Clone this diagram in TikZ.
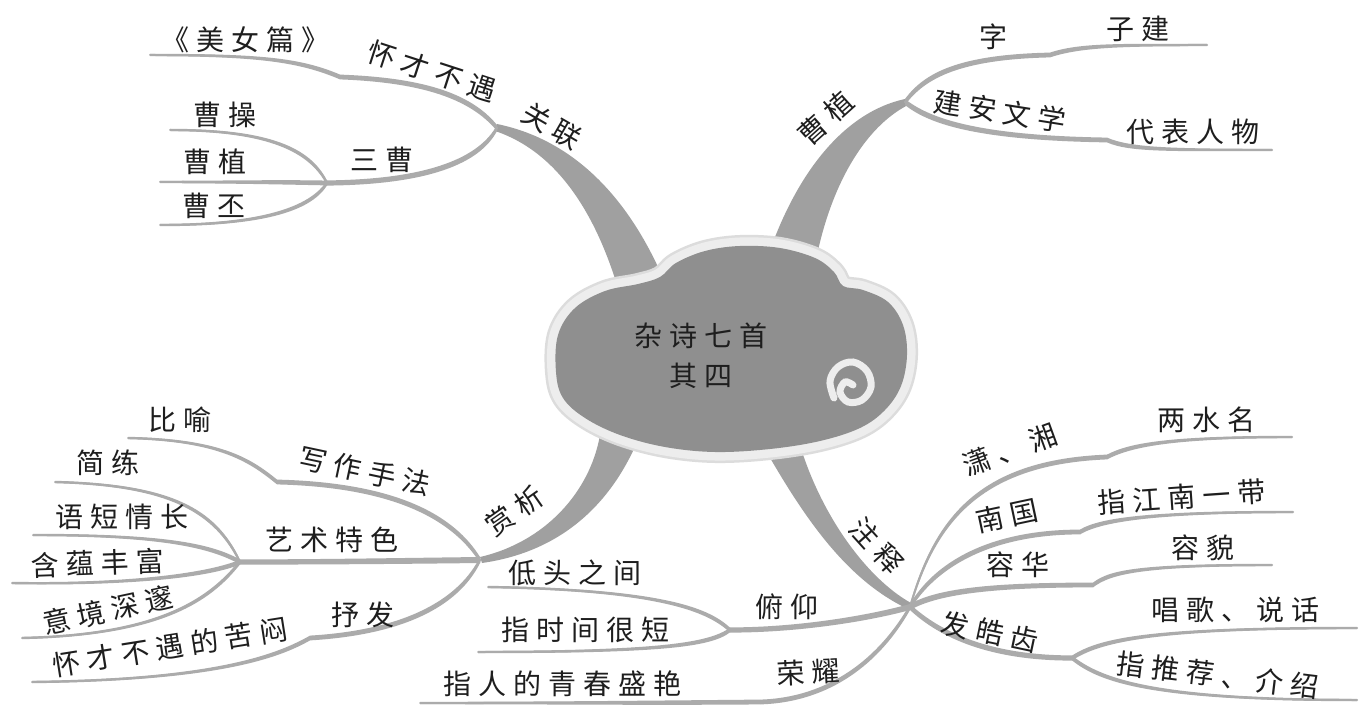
\documentclass[tikz,border=0pt]{standalone}
\usepackage{fontspec}
\newfontfamily\cjk[LetterSpace=25]{Noto Sans CJK SC}
\usetikzlibrary{calc}
\definecolor{thinc}{HTML}{ABABAB}
\definecolor{mainc}{HTML}{A0A0A0}
\definecolor{cloudc}{HTML}{8F8F8F}
\definecolor{haloc}{HTML}{EDEDED}
\definecolor{haloedge}{HTML}{DCDCDC}
\definecolor{txt}{HTML}{1E1E1E}
\tikzset{
  lab/.style={font=\cjk\fontsize{28}{28}\selectfont,text=txt,inner sep=0pt},
  titlelab/.style={font=\cjk\fontsize{28}{40}\selectfont,text=txt,inner sep=0pt,align=center},
  thinbr/.style={fill=thinc},
  thinln/.style={draw=thinc,line width=2pt,line cap=round},
  mainbr/.style={fill=mainc},
}
% tapered branch: #1 start, #2 c1, #3 c2, #4 end, #5 half width start, #6 half width end
\newcommand\tbr[6]{%
  \draw[thinln] (#1) .. controls (#2) and (#3) .. (#4);
  \fill[thinbr] ($(#1)+(0,#5)$) .. controls ($(#2)+(0,#5)$) and ($(#3)+(0,#6)$) .. ($(#4)+(0,#6)$)
     -- ($(#4)-(0,#6)$) .. controls ($(#3)-(0,#6)$) and ($(#2)-(0,#5)$) .. ($(#1)-(0,#5)$) -- cycle;}
\begin{document}
\begin{tikzpicture}[x=1pt,y=-1pt]
\useasboundingbox (0,0) rectangle (1362,708);
\fill[white] (0,0) rectangle (1362,708);
% ---------- coordinates
\coordinate (C) at (701,356);
\coordinate (JG) at (497,128);
\coordinate (KG1) at (340,77);
\coordinate (EG1) at (150,55);
\coordinate (JS) at (327,183);
\coordinate (EC1) at (170,130);
\coordinate (EC2) at (160,182);
\coordinate (EC3) at (160,225);
\coordinate (JZ) at (905,102);
\coordinate (KZ1) at (1050,55);
\coordinate (EZ1) at (1207,45);
\coordinate (KZ2) at (1107,140);
\coordinate (EZ2) at (1272,150);
\coordinate (JX) at (480,560);
\coordinate (KX1) at (277,482);
\coordinate (EX1) at (128,438);
\coordinate (JY) at (240,562);
\coordinate (EY1) at (55,482);
\coordinate (EY2) at (33,535);
\coordinate (EY3) at (12,583);
\coordinate (EY4) at (22,638);
\coordinate (KX3) at (310,638);
\coordinate (EX3) at (32,682);
\coordinate (JN) at (910,607);
\coordinate (KN1) at (1107,457);
\coordinate (EN1) at (1292,437);
\coordinate (KN2) at (1080,532);
\coordinate (EN2) at (1293,512);
\coordinate (KN3) at (1093,585);
\coordinate (EN3) at (1272,565);
\coordinate (JH) at (1072,658);
\coordinate (EH1) at (1357,628);
\coordinate (EH2) at (1357,700);
\coordinate (JF) at (730,630);
\coordinate (EF1) at (488,587);
\coordinate (EF2) at (478,652);
\coordinate (KR) at (760,702);
\coordinate (ER) at (420,703);
% ---------- main branches
\fill[mainbr] (497,124) .. controls (575,140) and (632,200) .. (668,290) -- (620,295) .. controls (597,215) and (558,152) .. (495,131) -- cycle;
\fill[mainbr] (905,99) .. controls (845,112) and (795,172) .. (765,265) -- (815,265) .. controls (830,185) and (865,127) .. (908,105) -- cycle;
\fill[mainbr] (600,435) .. controls (590,492) and (545,542) .. (480,557) -- (482,563) .. controls (560,552) and (612,505) .. (640,435) -- cycle;
\fill[mainbr] (757,435) .. controls (798,508) and (842,578) .. (908,609) -- (911,603) .. controls (866,578) and (818,512) .. (797,435) -- cycle;
% ---------- thin branches
\tbr{JG}{470,95}{420,80}{KG1}{3}{2.4}
\tbr{KG1}{300,60}{260,55}{EG1}{2.4}{1.2}
\tbr{JG}{480,160}{430,182}{JS}{3}{2.6}
\tbr{JS}{310,150}{270,130}{EC1}{2.4}{1.2}
\tbr{JS}{280,182}{220,182}{EC2}{2.4}{1.2}
\tbr{JS}{310,210}{260,225}{EC3}{2.4}{1.2}
\tbr{JZ}{925,75}{960,57}{KZ1}{3}{2.4}
\tbr{KZ1}{1080,45}{1120,45}{EZ1}{2.4}{1.2}
\tbr{JZ}{930,122}{980,138}{KZ2}{3}{2.4}
\tbr{KZ2}{1130,150}{1170,150}{EZ2}{2.4}{1.2}
\tbr{JX}{455,520}{400,485}{KX1}{3}{2.4}
\tbr{KX1}{250,460}{220,440}{EX1}{2.4}{1.2}
\tbr{JX}{400,561}{320,562}{JY}{3}{2.6}
\tbr{JY}{215,510}{170,485}{EY1}{2.4}{1.2}
\tbr{JY}{210,545}{160,535}{EY2}{2.4}{1.2}
\tbr{JY}{210,575}{130,585}{EY3}{2.4}{1.2}
\tbr{JY}{210,600}{160,635}{EY4}{2.4}{1.2}
\tbr{JX}{460,600}{410,632}{KX3}{3}{2.4}
\tbr{KX3}{280,655}{220,680}{EX3}{2.4}{1.2}
\tbr{JN}{935,520}{980,462}{KN1}{3}{2.4}
\tbr{KN1}{1130,445}{1170,437}{EN1}{2.4}{1.2}
\tbr{JN}{935,565}{990,532}{KN2}{3}{2.4}
\tbr{KN2}{1100,520}{1150,512}{EN2}{2.4}{1.2}
\tbr{JN}{940,590}{1000,585}{KN3}{3}{2.4}
\tbr{KN3}{1110,572}{1140,565}{EN3}{2.4}{1.2}
\tbr{JN}{940,635}{990,658}{JH}{3}{2.6}
\tbr{JH}{1100,640}{1150,628}{EH1}{2.4}{1.2}
\tbr{JH}{1100,680}{1150,700}{EH2}{2.4}{1.2}
\tbr{JN}{870,618}{800,630}{JF}{3}{2.6}
\tbr{JF}{710,612}{670,590}{EF1}{2.4}{1.2}
\tbr{JF}{710,645}{660,652}{EF2}{2.4}{1.2}
\tbr{JN}{880,660}{830,700}{KR}{3}{2.4}
\tbr{KR}{650,703}{550,703}{ER}{2.4}{1.2}
% ---------- cloud
\def\cloudpath{plot[smooth cycle,tension=0.6] coordinates {(556,372) (558,335) (575,308) (605,291) (638,284) (660,277) (676,263) (705,251) (740,246) (780,248) (815,258) (834,272) (843,286) (863,290) (888,302) (903,325) (907,355) (901,386) (885,410) (860,428) (820,441) (770,449) (715,452) (665,447) (620,435) (585,418) (563,398)}}
\draw[haloedge,line width=22pt,line join=round] \cloudpath;
\draw[haloc,line width=17pt,line join=round] \cloudpath;
\fill[cloudc] \cloudpath;
\draw[haloc,line width=7pt,line cap=round] plot[smooth,tension=0.6] coordinates {(834,398) (830,381) (838,367) (853,362) (867,371) (871,387) (862,400) (848,402) (840,392) (845,382) (853,385)};
\node[titlelab] (title) at (C) {杂诗七首\\其四};
% ---------- labels
\node[lab] (l1) at (245,40) {《美女篇》};
\node[lab,rotate=-18] (l2) at (432,71) {怀才不遇};
\node[lab,rotate=-30] (l3) at (552,126) {关联};
\node[lab] (l4) at (225,115) {曹操};
\node[lab] (l5) at (215,162) {曹植};
\node[lab] (l6) at (214,206) {曹丕};
\node[lab] (l7) at (382,160) {三曹};
\node[lab,rotate=42] (l8) at (826,118) {曹植};
\node[lab] (l9) at (993,37) {字};
\node[lab] (l10) at (1138,29) {子建};
\node[lab,rotate=-9] (l11) at (1000,111) {建安文学};
\node[lab] (l12) at (1193,132) {代表人物};
\node[lab] (l13) at (180,420) {比喻};
\node[lab,rotate=-12] (l14) at (365,471) {写作手法};
\node[lab] (l15) at (332,540) {艺术特色};
\node[lab] (l16) at (108,463) {简练};
\node[lab] (l17) at (122,517) {语短情长};
\node[lab,rotate=2] (l18) at (98,563) {含蕴丰富};
\node[lab,rotate=12] (l19) at (108,610) {意境深邃};
\node[lab,rotate=9] (l20) at (170,647) {怀才不遇的苦闷};
\node[lab] (l21) at (363,615) {抒发};
\node[lab,rotate=35] (l22) at (514,511) {赏析};
\node[lab] (l23) at (575,573) {低头之间};
\node[lab] (l24) at (585,630) {指时间很短};
\node[lab] (l25) at (787,607) {俯仰};
\node[lab,rotate=3] (l26) at (808,672) {荣耀};
\node[lab] (l27) at (562,684) {指人的青春盛艳};
\node[lab,rotate=-48] (l28) at (877,546) {注释};
\node[lab,rotate=20] (l29) at (1010,450) {潇、湘};
\node[lab] (l30) at (1206,420) {两水名};
\node[lab,rotate=12] (l31) at (1007,516) {南国};
\node[lab,rotate=4] (l32) at (1182,497) {指江南一带};
\node[lab] (l33) at (1018,565) {容华};
\node[lab] (l34) at (1203,548) {容貌};
\node[lab,rotate=-12] (l35) at (990,632) {发皓齿};
\node[lab] (l36) at (1235,610) {唱歌、说话};
\node[lab,rotate=-7] (l37) at (1218,675) {指推荐、介绍};
\end{tikzpicture}
\end{document}
